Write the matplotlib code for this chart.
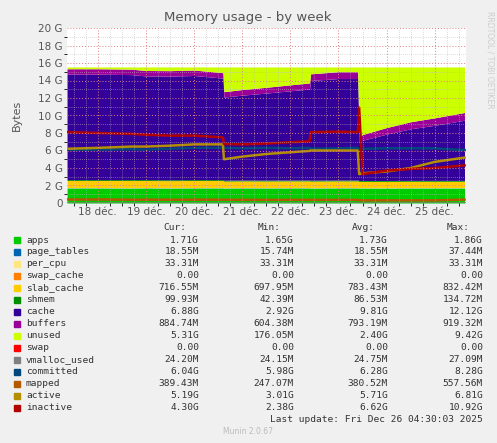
import matplotlib
matplotlib.use("Agg")
import matplotlib.pyplot as plt
import numpy as np

t = [17.36, 18.0, 18.7, 19.0, 19.5, 20.0, 20.6, 20.62, 21.0, 21.5, 22.0, 22.4, 22.42, 23.0, 23.4, 23.43, 23.5, 24.0, 24.5, 25.0, 25.62]
apps        = [1.72,1.72,1.70,1.72,1.70,1.72,1.72,1.70,1.72,1.71,1.72,1.72,1.70,1.72,1.72,1.70,1.70,1.70,1.71,1.71,1.71]
page_tables = [0.02]*21
per_cpu     = [0.033]*21
swap_cache  = [0.0]*21
slab_cache  = [0.80,0.80,0.82,0.80,0.80,0.80,0.80,0.75,0.75,0.75,0.75,0.75,0.75,0.75,0.75,0.72,0.72,0.72,0.72,0.72,0.72]
shmem       = [0.10]*21
cache       = [12.05,12.05,12.0,11.85,11.85,11.9,11.6,9.5,9.7,9.95,10.2,10.4,11.4,11.6,11.6,4.4,4.6,5.3,5.9,6.3,6.88]
buffers     = [0.62,0.62,0.62,0.62,0.62,0.62,0.62,0.62,0.64,0.66,0.68,0.70,0.76,0.78,0.78,0.60,0.65,0.75,0.80,0.85,0.88]
total = 15.55
swap        = [0.0]*21
vmalloc_used= [0.024]*21
committed   = [6.1,6.1,6.15,6.1,6.2,6.3,6.3,6.3,6.25,6.3,6.25,6.3,6.2,6.25,6.3,6.1,6.2,6.25,6.25,6.25,6.04]
mapped      = [0.40,0.40,0.38,0.38,0.38,0.38,0.38,0.38,0.36,0.36,0.36,0.36,0.36,0.36,0.36,0.30,0.30,0.30,0.30,0.30,0.39]
active      = [6.2,6.3,6.45,6.45,6.55,6.7,6.7,5.0,5.3,5.6,5.8,5.95,6.0,6.0,6.0,3.3,3.4,3.6,4.0,4.7,5.19]
inactive    = [8.1,8.0,7.9,7.8,7.7,7.7,7.5,6.75,6.7,6.8,6.95,7.05,8.1,8.15,8.1,10.9,3.3,3.7,3.9,4.0,4.30]

names = ["apps","page_tables","per_cpu","swap_cache","slab_cache","shmem","cache","buffers","unused","swap",
         "vmalloc_used","committed","mapped","active","inactive"]
colors = ["#00CC00","#0066B3","#FFE680","#FF8000","#FFCC00","#008F00","#330099","#990099","#CCFF00","#FF0000",
          "#808080","#00487D","#B35A00","#B38F00","#B30000"]
cur = ["1.71G","18.55M","33.31M","0.00","716.55M","99.93M","6.88G","884.74M","5.31G","0.00","24.20M","6.04G","389.43M","5.19G","4.30G"]
mn  = ["1.65G","15.74M","33.31M","0.00","697.95M","42.39M","2.92G","604.38M","176.05M","0.00","24.15M","5.98G","247.07M","3.01G","2.38G"]
avg = ["1.73G","18.55M","33.31M","0.00","783.43M","86.53M","9.81G","793.19M","2.40G","0.00","24.75M","6.28G","380.52M","5.71G","6.62G"]
mx  = ["1.86G","37.44M","33.31M","0.00","832.42M","134.72M","12.12G","919.32M","9.42G","0.00","27.09M","8.28G","557.56M","6.81G","10.92G"]
day_ticks = [18,19,20,21,22,23,24,25]
day_labels = ["18 déc.","19 déc.","20 déc.","21 déc.","22 déc.","23 déc.","24 déc.","25 déc."]

fig = plt.figure(figsize=(4.97,4.43), dpi=100, facecolor="#F0F0F0")
ax = fig.add_axes([67/497, 240/443, 399/497, 175/443])
ax.set_facecolor("white")
tt = np.array(t)
stack = [apps,page_tables,per_cpu,swap_cache,slab_cache,shmem,cache,buffers]
base = np.zeros(len(t))
for i, s in enumerate(stack):
    top = base + np.array(s)
    ax.fill_between(tt, base, top, color=colors[i], lw=0, zorder=1)
    base = top
ax.fill_between(tt, base, np.full(len(t), total), color=colors[8], lw=0, zorder=1)
for s, c in zip([vmalloc_used, committed, mapped, active, inactive], colors[10:]):
    ax.plot(tt, s, color=c, lw=1.8, zorder=2)
ax.set_xlim(17.36, 25.65)
ax.set_ylim(0, 20)
ax.set_yticks(range(0,21,2))
ax.set_yticklabels(["0"]+[f"{v} G" for v in range(2,21,2)])
ax.set_xticks(day_ticks)
ax.set_xticklabels(day_labels)
ax.set_xticks(np.arange(17.5,25.7,0.25), minor=True)
ax.set_yticks(np.arange(1,20,2), minor=True)
ax.grid(which="minor", color="#BBBBBB", ls=(0,(1,2)), lw=0.5, zorder=3)
ax.grid(which="major", color="#E08080", ls=(0,(1,2)), lw=0.7, zorder=3)
ax.set_axisbelow(False)
ax.tick_params(labelsize=7.5, colors="#555555", length=0, pad=3)
for sp in ax.spines.values():
    sp.set_visible(False)
ax.set_ylabel("Bytes", fontsize=8, color="#555555", labelpad=12)
fig.text(248/497, 1-18/443, "Memory usage - by week", ha="center", va="center", fontsize=9.5, color="#555555")
fig.text(490/497, 1-60/443, "RRDTOOL / TOBI OETIKER", rotation=270, ha="center", va="center", fontsize=5.5, color="#CCCCCC")

mono = "DejaVu Sans Mono"
fs = 6.8
def Y(p): return 1 - p/443
for x, h in zip([186, 281, 375, 470], ["Cur:","Min:","Avg:","Max:"]):
    fig.text(x/497, Y(227), h, ha="right", va="center", family=mono, fontsize=fs, color="#333333")
for i, n in enumerate(names):
    y = 240 + 12*i
    fig.patches.append(plt.Rectangle((14/497, Y(y)-3/443), 6/497, 6/443, transform=fig.transFigure, color=colors[i]))
    fig.text(26/497, Y(y), n, ha="left", va="center", family=mono, fontsize=fs, color="#333333")
    for x, v in zip([199, 294, 388, 483], [cur[i], mn[i], avg[i], mx[i]]):
        fig.text(x/497, Y(y), v, ha="right", va="center", family=mono, fontsize=fs, color="#333333")
fig.text(483/497, Y(420), "Last update: Fri Dec 26 04:30:03 2025", ha="right", va="center", family=mono, fontsize=fs, color="#333333")
fig.text(248/497, Y(432), "Munin 2.0.67", ha="center", va="center", fontsize=5.5, color="#BBBBBB")
fig.savefig("out.png", dpi=100, facecolor=fig.get_facecolor())
